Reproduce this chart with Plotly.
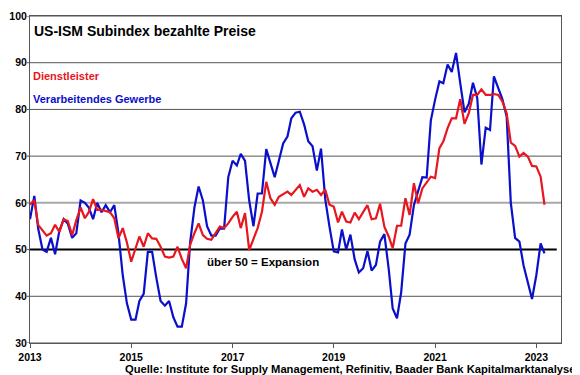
import plotly.graph_objects as go
import pandas as pd

months = pd.date_range("2013-01-01", "2023-03-01", freq="MS").strftime("%Y-%m-%d").tolist()

dienstleister = [
    59.6, 60.6, 55.3, 54.0, 53.0, 53.5, 55.3, 53.8, 56.5, 56.1, 53.1, 56.3,
    59.0, 56.7, 58.0, 60.8, 58.5, 58.5, 58.3, 58.0, 56.7, 52.4, 54.6, 51.5,
    47.4, 50.3, 52.8, 50.6, 53.5, 52.4, 52.3, 50.6, 48.5, 48.3, 48.5, 50.6,
    48.0, 46.0, 51.0, 53.5, 55.6, 53.1, 52.3, 52.1, 53.5, 54.9, 54.6, 55.6,
    57.0, 58.1, 54.6, 57.8, 49.9, 52.4, 54.6, 58.1, 64.5, 61.0, 59.6, 61.3,
    61.8, 62.4, 61.7, 62.8, 63.8, 61.3, 63.1, 62.4, 62.8, 61.7, 62.8, 59.6,
    59.2, 55.8, 58.1, 56.0, 55.8, 57.9, 56.5, 58.0, 59.5, 56.5, 56.7, 59.8,
    54.9, 52.8, 50.3, 55.1, 55.1, 61.0, 57.4, 64.2, 59.9, 63.1, 64.5, 65.6,
    65.3, 71.7, 73.1, 76.0, 78.1, 78.1, 82.2, 76.9, 79.2, 83.1, 83.1, 84.3,
    83.1, 83.1, 83.3, 83.1, 81.7, 79.2, 72.9, 72.2, 69.9, 70.7, 69.9, 67.9,
    67.8, 65.6, 59.6,
]

verarbeitendes_gewerbe = [
    56.5, 61.5, 54.5, 50.0, 49.5, 52.5, 49.0, 54.0, 56.5, 55.5, 52.5, 53.5,
    60.5, 60.0, 59.0, 56.5, 60.0, 58.0, 59.5, 58.0, 59.5, 53.5, 44.5, 38.5,
    35.0, 35.0, 39.0, 40.5, 49.5, 49.5, 44.0, 39.0, 38.0, 39.0, 35.5, 33.5,
    33.5, 38.5, 51.5, 59.0, 63.5, 60.5, 55.0, 53.0, 53.0, 54.5, 54.5, 65.5,
    69.0, 68.0, 70.5, 69.0, 60.5, 55.0, 62.0, 62.0, 71.5, 68.5, 65.5, 69.0,
    72.7, 74.2, 78.1, 79.3, 79.5, 76.8, 73.2, 72.1, 66.9, 71.6, 60.7, 54.9,
    49.6, 49.4, 54.3, 50.0, 53.2, 47.9, 45.1, 46.0, 49.7, 45.5, 46.7, 51.7,
    53.3, 45.9, 37.4, 35.3, 40.8, 51.3, 53.2, 59.5, 62.8, 65.5, 65.4, 77.6,
    82.1, 86.0, 85.6, 89.6, 88.0, 92.1, 85.7, 79.4, 81.2, 85.7, 82.4, 68.2,
    76.1, 75.6, 87.1, 84.6, 82.2, 78.5, 60.0, 52.5, 51.7, 46.6, 43.0, 39.4,
    44.5, 51.3, 49.2,
]

tick_years = ["2013", "2015", "2017", "2019", "2021", "2023"]
y_ticks = [30, 40, 50, 60, 70, 80, 90, 100]
grid_dark = [40, 70, 80, 90, 100]

RED = "#e8161e"
BLUE = "#0a0fcc"
FONT = "Liberation Sans, Arial, sans-serif"

fig = go.Figure()
fig.add_trace(go.Scatter(x=months, y=verarbeitendes_gewerbe, mode="lines",
                         line=dict(color=BLUE, width=2.2), name="Verarbeitendes Gewerbe"))
fig.add_trace(go.Scatter(x=months, y=dienstleister, mode="lines",
                         line=dict(color=RED, width=2.2), name="Dienstleister"))

# page has an 8px body margin: figure is drawn 8px in from the top-left
fig.update_layout(
    width=572, height=367,
    margin=dict(l=22, r=19, t=8, b=32),
    paper_bgcolor="white", plot_bgcolor="white",
    showlegend=False,
    font=dict(family=FONT, size=11, color="black"),
    xaxis=dict(
        type="date",
        automargin=False,
        range=["2013-01-01", "2023-06-28"],
        tickvals=[y + "-01-01" for y in tick_years],
        ticktext=[f"<b>{y}</b>" for y in tick_years],
        ticks="outside", ticklen=4, tickcolor="#555",
        showgrid=False, zeroline=False,
        showline=True, linecolor="#555", linewidth=1, mirror=True,
        tickfont=dict(family=FONT, size=10.5, color="black"),
    ),
    yaxis=dict(
        automargin=False,
        range=[30, 100],
        tickvals=y_ticks,
        ticktext=[f"<b>{v}</b>" for v in y_ticks],
        ticks="",
        showgrid=False, zeroline=False,
        showline=True, linecolor="#555", linewidth=1, mirror=True,
        tickfont=dict(family=FONT, size=10.5, color="black"),
    ),
)

for g in grid_dark + [30, 50]:
    fig.add_shape(type="line", xref="paper", yref="y", x0=-0.006, x1=1 if g != 50 else 0, y0=g, y1=g,
                  line=dict(color="#555555", width=1), layer="below")
fig.add_shape(type="line", xref="paper", yref="y", x0=-0.006, x1=1, y0=60, y1=60,
              line=dict(color="#a8a8a8", width=2), layer="below")
fig.add_shape(type="line", xref="paper", yref="y", x0=0, x1=0.992, y0=50, y1=50,
              line=dict(color="black", width=2), layer="below")

fig.add_annotation(text="<b>US-ISM Subindex bezahlte Preise</b>", xref="paper", yref="paper",
                   x=0.004, y=0.954, xanchor="left", yanchor="middle", showarrow=False,
                   font=dict(family=FONT, size=14, color="black"))
fig.add_annotation(text="<b>Dienstleister</b>", xref="paper", yref="paper",
                   x=0.002, y=0.8165, xanchor="left", yanchor="middle", showarrow=False,
                   font=dict(family=FONT, size=11, color=RED))
fig.add_annotation(text="<b>Verarbeitendes Gewerbe</b>", xref="paper", yref="paper",
                   x=0.002, y=0.746, xanchor="left", yanchor="middle", showarrow=False,
                   font=dict(family=FONT, size=11, color=BLUE))
fig.add_annotation(text="<b>über 50 = Expansion</b>", xref="paper", yref="paper",
                   x=0.330, y=0.248, xanchor="left", yanchor="middle", showarrow=False,
                   font=dict(family=FONT, size=11.5, color="black"))
fig.add_annotation(text="<b>Quelle: Institute for Supply Management, Refinitiv, Baader Bank Kapitalmarktanalyse</b>",
                   xref="paper", yref="paper", x=1.031, y=-0.079, xanchor="right", yanchor="middle",
                   showarrow=False, borderpad=0, font=dict(family=FONT, size=11.2, color="black"))

fig.write_html("out.html")
